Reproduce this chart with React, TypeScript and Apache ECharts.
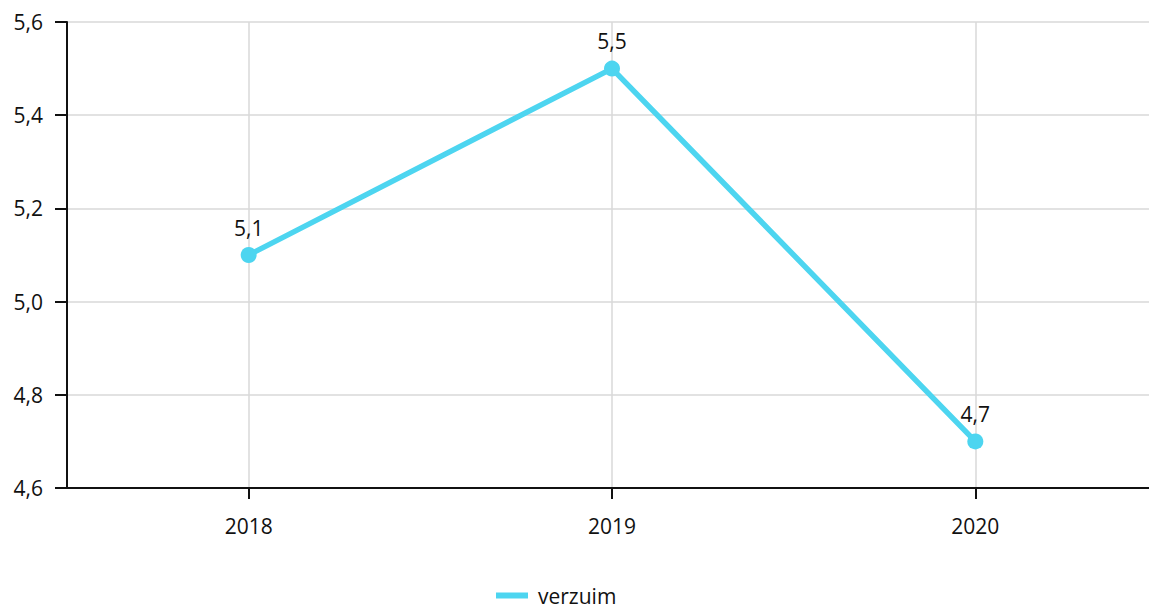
import React, { useEffect, useRef } from "react";
import * as echarts from "echarts";

// Absenteeism percentage per year
const years = ["2018", "2019", "2020"];
const verzuim = [5.1, 5.5, 4.7];
const yTicks = { min: 4.6, max: 5.6, interval: 0.2 };

const fmt = (v: number) => v.toFixed(1).replace(".", ",");
const FONT = "'Open Sans', 'Noto Sans', sans-serif";
const LINE_COLOR = "#4dd5f0";

export default function App() {
  const ref = useRef<HTMLDivElement>(null);

  useEffect(() => {
    if (!ref.current) return;
    const chart = echarts.init(ref.current, undefined, { renderer: "svg" });
    chart.setOption({
      animation: false,
      textStyle: { fontFamily: FONT },
      grid: {
        left: 67,
        width: 1090,
        top: 22,
        height: 466,
        containLabel: false,
        outerBoundsMode: "none",
      },
      legend: {
        data: ["verzuim"],
        left: 496,
        top: 585,
        icon: "rect",
        itemWidth: 32,
        itemHeight: 6,
        itemGap: 10,
        padding: 0,
        textStyle: { fontSize: 21, color: "#111", fontFamily: FONT, padding: [0, 0, 0, 5] },
      },
      xAxis: {
        type: "category",
        data: years,
        boundaryGap: true,
        axisLine: { show: true, lineStyle: { color: "#111", width: 2 } },
        axisTick: { show: true, alignWithLabel: true, length: 11, lineStyle: { color: "#111", width: 2 } },
        axisLabel: { fontSize: 21, color: "#111", margin: 27, fontFamily: FONT },
        splitLine: { show: true, alignWithLabel: true, lineStyle: { color: "#d9d9d9", width: 1.5 } },
      },
      yAxis: {
        type: "value",
        min: yTicks.min,
        max: yTicks.max,
        interval: yTicks.interval,
        axisLine: { show: true, lineStyle: { color: "#111", width: 2 } },
        axisTick: { show: true, length: 12, lineStyle: { color: "#111", width: 2 } },
        axisLabel: { fontSize: 21, color: "#111", margin: 24, fontFamily: FONT, formatter: (v: number) => fmt(v) },
        splitLine: { show: true, lineStyle: { color: "#d9d9d9", width: 1.5 } },
      },
      series: [
        {
          name: "verzuim",
          type: "line",
          data: verzuim,
          color: LINE_COLOR,
          lineStyle: { width: 5.5, color: LINE_COLOR },
          symbol: "circle",
          symbolSize: 16,
          itemStyle: { color: LINE_COLOR },
          label: {
            show: true,
            position: "top",
            distance: 9,
            fontSize: 21,
            color: "#111",
            fontFamily: FONT,
            formatter: (p: any) => fmt(p.value),
          },
        },
      ],
    });
    return () => chart.dispose();
  }, []);

  return (
    <div
      ref={ref}
      style={{ position: "fixed", left: 0, top: 0, width: 1149, height: 611, background: "#fff" }}
    />
  );
}
